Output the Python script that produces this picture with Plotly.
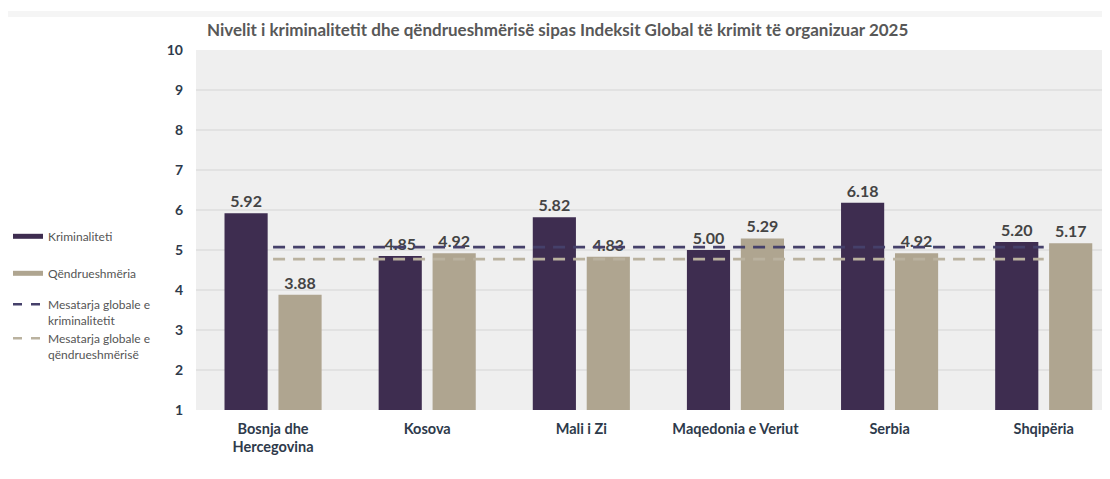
import plotly.graph_objects as go

countries = ["Bosnja dhe<br>Hercegovina", "Kosova", "Mali i Zi", "Maqedonia e Veriut", "Serbia", "Shqipëria"]
kriminaliteti = [5.92, 4.85, 5.82, 5.00, 6.18, 5.20]
qendrueshmeria = [3.88, 4.92, 4.83, 5.29, 4.92, 5.17]
mesatarja_krim = 5.07
mesatarja_qend = 4.77
y_ticks = [1, 2, 3, 4, 5, 6, 7, 8, 9, 10]

DARK = "#3e2d50"
BEIGE = "#afa590"
LINE_DARK = "#45406a"
LINE_BEIGE = "#bab29f"
FONT = "Lato"

# page body has an 8px margin -> compensate
W, H = 1102, 471
ML, MT, MB = 188, 42, 69
PLOT_H = H - MT - MB  # 360

fig = go.Figure()

fig.add_trace(go.Bar(
    x=countries, y=[v - 1 for v in kriminaliteti], base=1,
    marker=dict(color=DARK, line=dict(width=0)),
    width=0.28, offset=-0.315,
    text=[f"{v:.2f}" for v in kriminaliteti], textposition="outside",
    textfont=dict(family=FONT, size=16, color="#444444", weight="bold"),
    cliponaxis=False, showlegend=False,
))
fig.add_trace(go.Bar(
    x=countries, y=[v - 1 for v in qendrueshmeria], base=1,
    marker=dict(color=BEIGE, line=dict(width=0)),
    width=0.28, offset=0.035,
    text=[f"{v:.2f}" for v in qendrueshmeria], textposition="outside",
    textfont=dict(family=FONT, size=16, color="#444444", weight="bold"),
    cliponaxis=False, showlegend=False,
))
fig.add_trace(go.Scatter(
    x=countries, y=[mesatarja_krim] * len(countries), mode="lines",
    line=dict(color=LINE_DARK, width=2.7, dash="12px,8px"), showlegend=False,
))
fig.add_trace(go.Scatter(
    x=countries, y=[mesatarja_qend] * len(countries), mode="lines",
    line=dict(color=LINE_BEIGE, width=2.7, dash="12px,8px"), showlegend=False,
))

# legend entries, each in its own legend box placed at the reference position
legend_items = [
    ("Kriminaliteti", DARK, 5, "solid", 224),
    ("Qëndrueshmëria", BEIGE, 5, "solid", 261),
    ("Mesatarja globale e<br>kriminalitetit", LINE_DARK, 2.5, "9px,9px", 292),
    ("Mesatarja globale e<br>qëndrueshmërisë", LINE_BEIGE, 2.5, "9px,9px", 326),
]
legend_layouts = {}
for i, (name, col, w, d, ypix) in enumerate(legend_items):
    lname = "legend" if i == 0 else f"legend{i + 1}"
    fig.add_trace(go.Scatter(
        x=[None], y=[None], mode="lines", name=name, legend=lname,
        line=dict(color=col, width=w, dash=d),
    ))
    legend_layouts[lname] = dict(
        x=-ML / (W - ML), xanchor="left",
        y=(H - MB - (ypix - 10)) / PLOT_H, yanchor="top",
        font=dict(family=FONT, size=12, color="#555555"),
        itemwidth=30, bgcolor="rgba(0,0,0,0)", borderwidth=0, valign="top",
    )

fig.update_layout(
    width=W, height=H,
    margin=dict(l=ML, r=0, t=MT, b=MB),
    paper_bgcolor="white", plot_bgcolor="#efefef",
    barmode="overlay",
    font=dict(family=FONT, color="#333333"),
    title=dict(
        text="Nivelit i kriminalitetit dhe qëndrueshmërisë sipas Indeksit Global të krimit të organizuar 2025",
        x=199 / W, xanchor="left", y=1 - 22 / H, yanchor="middle",
        font=dict(family=FONT, size=17, color="#585858", weight="bold"),
    ),
    xaxis=dict(
        range=[-0.5, 5.43], showgrid=False, zeroline=False, showline=False,
        tickfont=dict(family=FONT, size=14.5, color="#2e3a4b", weight="bold"),
        ticks="", ticklabelstandoff=8,
    ),
    yaxis=dict(
        range=[1, 10], tickvals=y_ticks, showgrid=True, gridcolor="#e2e2e2", gridwidth=1.5,
        zeroline=False, showline=False,
        tickfont=dict(family=FONT, size=14, color="#2e3a4b", weight="bold"),
        ticks="", ticklabelstandoff=12,
    ),
    shapes=[dict(type="rect", xref="paper", yref="paper", x0=-ML / (W - ML), x1=1.0,
                 y0=1 + (MT - 3) / PLOT_H, y1=1 + (MT - 9) / PLOT_H,
                 fillcolor="#f5f5f5", line=dict(width=0), layer="below")],
    **legend_layouts,
)

fig.write_html("out.html")
